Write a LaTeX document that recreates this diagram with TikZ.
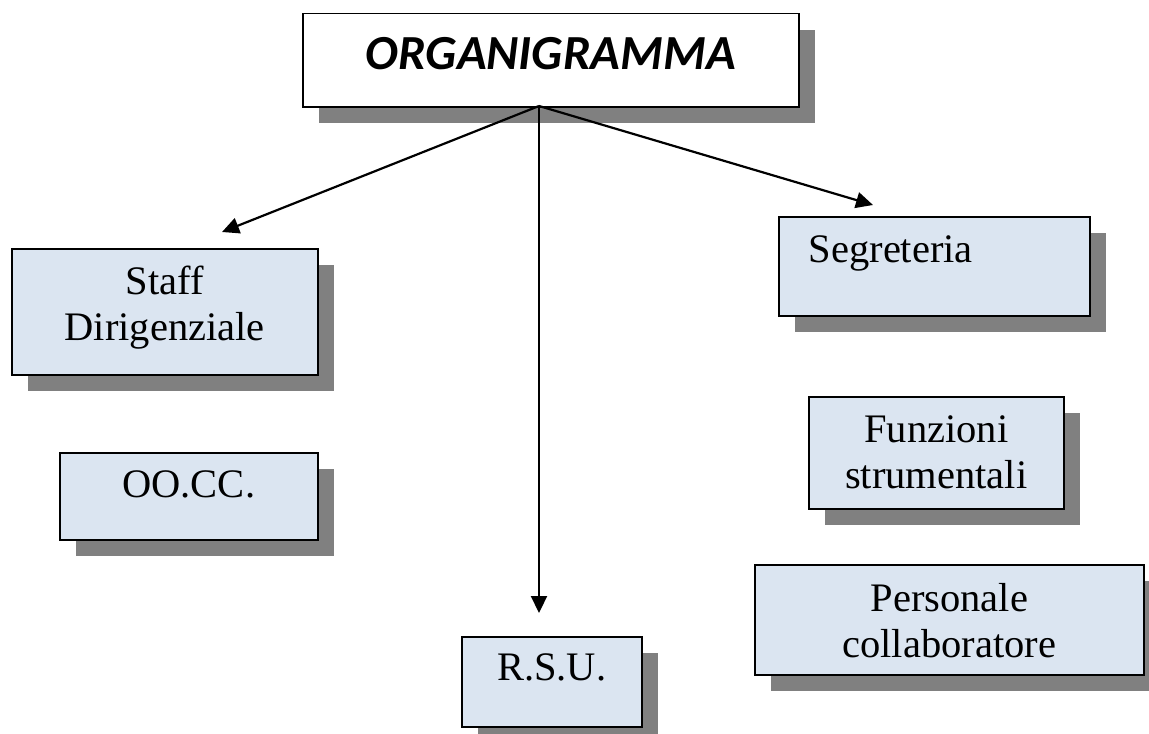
\documentclass[tikz,border=0pt]{standalone}
\usepackage{fontspec}
\setmainfont{Liberation Serif}
\newfontfamily\titlefont{Carlito}
\usetikzlibrary{arrows.meta,shadows}

\definecolor{boxblue}{HTML}{DBE5F1}
\definecolor{shadowgray}{HTML}{808080}

\tikzset{
  ufficio/.style = {
    rectangle,                    % plain box
    anchor        = north west,   % placed by its top left corner
    draw          = black,        % border
    line width    = .75pt,        % border width
    fill          = boxblue,
    inner sep     = 0pt,          % sep b/w border and inner text
    align         = center,
    font          = \fontsize{20.25pt}{23pt}\selectfont,
    text          = black,        % inner label color
    text height   = 23pt,         % top of box to last baseline
    drop shadow   = {shadow xshift=8pt, shadow yshift=-8pt,
                     fill=shadowgray, opacity=1},
  },
  freccia/.style = {
    -{Triangle[length=8.5pt, width=8pt]},
    line width    = 1.1pt,
  },
}

\begin{document}
\begin{tikzpicture}[x=.5pt, y=-.5pt]
\useasboundingbox (0,0) rectangle (1149,733);

% vertice
\node at (302, 13) [
  ufficio,
  fill          = white,
  minimum width = 248pt,
  text height   = 28pt,
  text depth    = 18.5pt,
  font          = \titlefont\fontsize{24.5pt}{28pt}\selectfont\bfseries\itshape,
  ]
  (org)
  {ORGANIGRAMMA} ;

% colonna sinistra
\node at (11, 248) [ufficio, minimum width=153pt, text height=46pt, text depth=17pt]
  (staff) {Staff\\Dirigenziale} ;
\node at (59, 452) [ufficio, minimum width=129pt, text height=22.5pt, text depth=21pt]
  (oocc) {OO.CC.} ;

% centro
\node at (461, 636) [ufficio, minimum width=90pt, text height=22pt, text depth=23pt]
  (rsu) {R.S.U.} ;

% colonna destra
\node at (778, 216) [
  ufficio,
  align         = left,
  text width    = 125.5pt,
  inner xsep    = 15pt,
  text depth    = 26.5pt,
  ]
  (segr) {Segreteria} ;
\node at (808, 396) [ufficio, minimum width=127.5pt, text height=46pt, text depth=10pt]
  (funz) {Funzioni\\strumentali} ;
\node at (754, 564) [ufficio, minimum width=194.5pt, text height=46.5pt, text depth=8.5pt]
  (pers) {Personale\\collaboratore} ;

% frecce
\coordinate (hub)       at (539, 106) ;
\coordinate (staff-tip) at (222, 232) ;
\coordinate (rsu-tip)   at (539, 613) ;
\coordinate (segr-tip)  at (873, 205) ;

\draw [freccia] (hub) -- (staff-tip) ;
\draw [freccia] (hub) -- (rsu-tip) ;
\draw [freccia] (hub) -- (segr-tip) ;
\end{tikzpicture}
\end{document}
